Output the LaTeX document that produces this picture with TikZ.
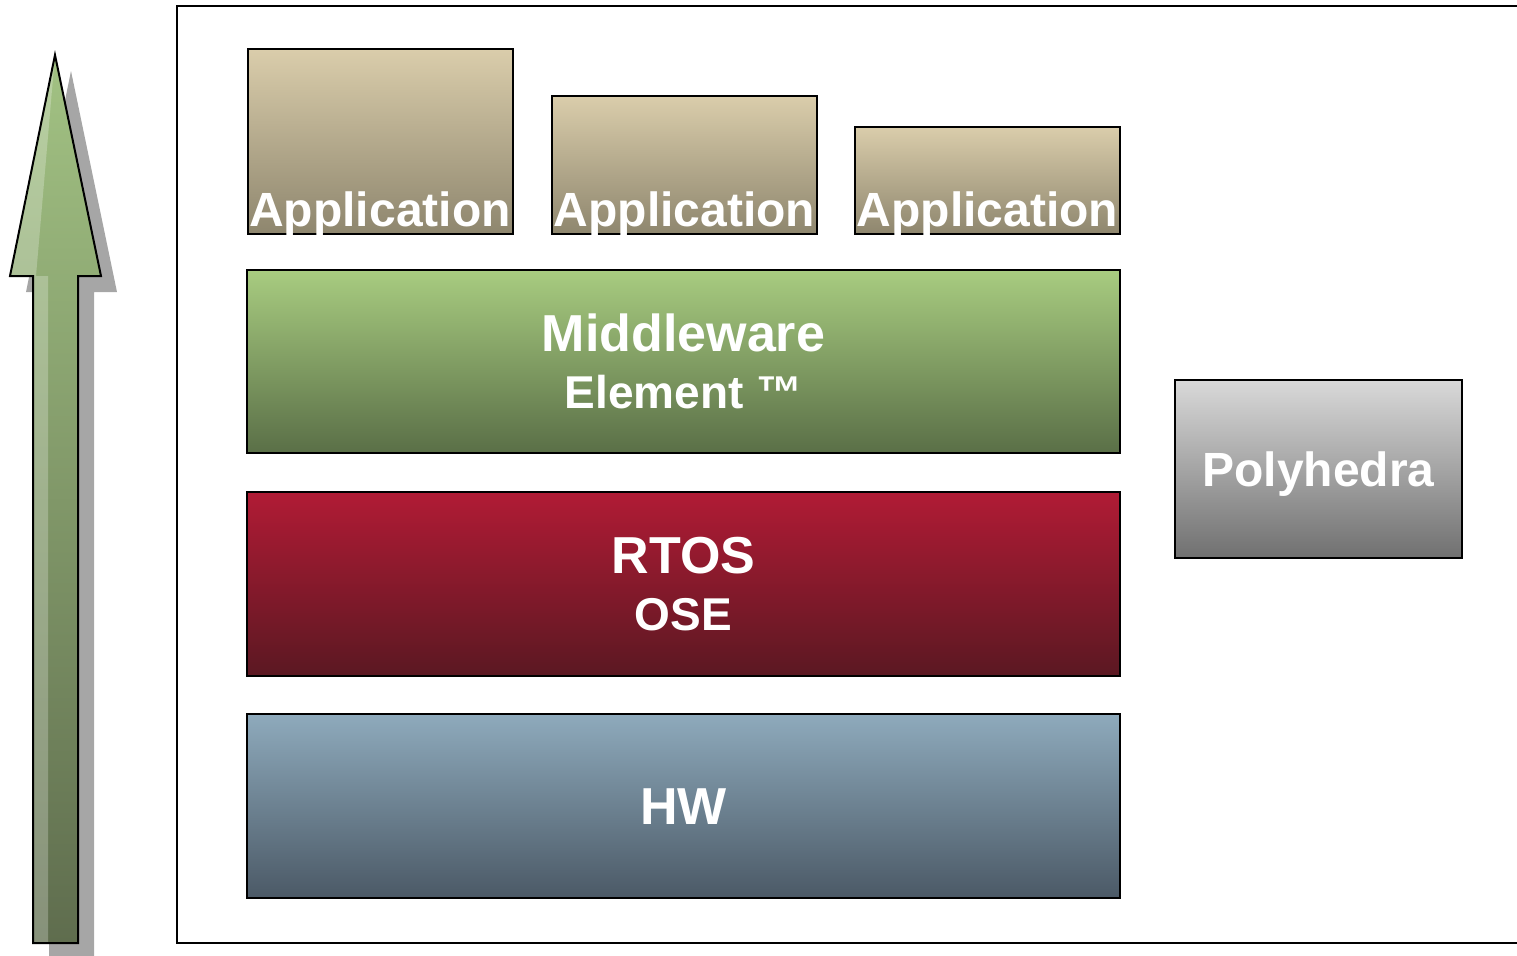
\documentclass[tikz,border=0pt]{standalone}
\usepackage{fontspec}
\setsansfont{Liberation Sans}
\usetikzlibrary{positioning,calc}

\definecolor{apptop}{HTML}{DACDAB}
\definecolor{appbot}{HTML}{8E866E}
\definecolor{midtop}{HTML}{A8CC80}
\definecolor{midbot}{HTML}{5A6F47}
\definecolor{rtostop}{HTML}{B11B35}
\definecolor{rtosbot}{HTML}{5B1822}
\definecolor{hwtop}{HTML}{8EAABC}
\definecolor{hwbot}{HTML}{4B5966}
\definecolor{polytop}{HTML}{D9D9D9}
\definecolor{polybot}{HTML}{707070}
\definecolor{arrtop}{HTML}{A2C283}
\definecolor{arrbot}{HTML}{5F6D4E}
\definecolor{shadowgray}{HTML}{A6A6A6}

\tikzset{
  box/.style={draw=black,line width=1pt,inner sep=0pt,text=white,
    font=\sffamily\bfseries\fontsize{26}{28.5}\selectfont,align=center},
  layer/.style={box,minimum width=436.5pt,minimum height=92pt},
  appbox/.style={box,minimum width=132.5pt,top color=apptop,bottom color=appbot},
  apptext/.style={anchor=base,inner sep=0pt,text=white,
    font=\sffamily\bfseries\fontsize{24}{28}\selectfont}
}

\begin{document}
\begin{tikzpicture}[x=0.5pt,y=-0.5pt,node distance=18.3pt]
		\def\small{\fontsize{23}{28.5}\selectfont}
		\useasboundingbox (0,0) rectangle (1517,955);
		% outer frame
		\draw[line width=1pt] (177,6) rectangle (1540,943);
		% arrow with shadow
		\fill[shadowgray] (71,71) -- (117,292) -- (94,292) -- (94,959) -- (49,959) -- (49,292) -- (26,292) -- cycle;
		\shade[top color=arrtop,bottom color=arrbot] (55,55) -- (101,276) -- (78,276) -- (78,943) -- (33,943) -- (33,276) -- (10,276) -- cycle;
		\fill[white,opacity=0.25] (55,55) -- (36,276) -- (48,276) -- (48,943) -- (33,943) -- (33,276) -- (10,276) -- cycle;
		\draw[line width=1pt,line join=miter] (55,55) -- (101,276) -- (78,276) -- (78,943) -- (33,943) -- (33,276) -- (10,276) -- cycle;
		% applications
		\node[appbox,minimum height=92.5pt] (app1) at (380,141.5) {};
		\node[appbox,minimum height=69pt] (app2) at (684.5,165) {};
		\node[appbox,minimum height=53.5pt] (app3) at (987.5,180.5) {};
		\node[apptext] (app1text) at ([yshift=4.5pt]app1.south) {Application};
		\node[apptext] (app2text) at ([yshift=4.5pt]app2.south) {Application};
		\node[apptext] (app3text) at ([yshift=4.5pt]app3.south) {Application};
		% layers
		\node[layer,minimum height=91.5pt,top color=midtop,bottom color=midbot] (middleware) at (683.5,361.5) {Middleware\\{\small Element ™}};
		\node[layer,below=of middleware,top color=rtostop,bottom color=rtosbot] (rtos) {RTOS\\{\small OSE}};
		\node[layer,below=of rtos,top color=hwtop,bottom color=hwbot] (hw) {HW};
		\node[box,minimum width=143.5pt,minimum height=89pt,text depth=0pt,top color=polytop,bottom color=polybot,
		      font=\sffamily\bfseries\fontsize{24}{28}\selectfont] (poly) at (1318.5,469) {Polyhedra};
\end{tikzpicture}
\end{document}
